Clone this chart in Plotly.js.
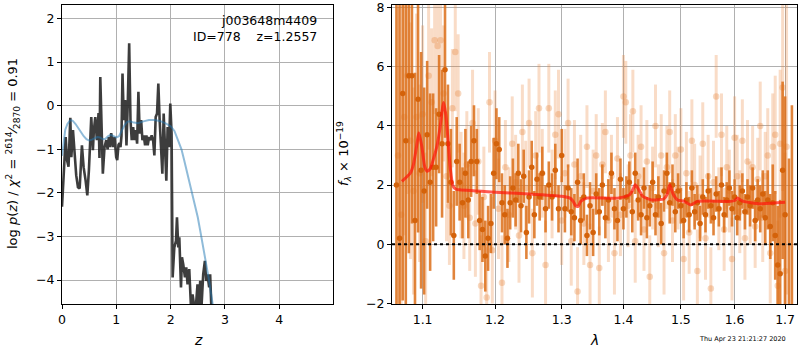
<!DOCTYPE html>
<html>
<head>
<meta charset="utf-8">
<script src="https://cdn.plot.ly/plotly-3.0.1.min.js"></script>
<style>html,body{margin:0;padding:0;background:#fff;}#plot{width:800px;height:350px;}</style>
</head>
<body>
<div id="plot"></div>
<script>
// ---- Left panel: log p(z) ----
const zPdf = [0.0,0.007,0.04,0.068,0.092,0.12,0.153,0.172,0.202,0.233,0.262,0.294,0.325,0.367,0.398,0.435,0.466,0.495,0.515,0.539,0.569,0.587,0.613,0.642,0.673,0.69,0.705,0.728,0.752,0.783,0.815,0.84,0.862,0.88,0.906,0.936,0.967,0.998,1.017,1.04,1.059,1.077,1.095,1.114,1.138,1.163,1.187,1.211,1.237,1.261,1.284,1.31,1.334,1.358,1.383,1.407,1.431,1.457,1.481,1.505,1.53,1.554,1.578,1.604,1.628,1.651,1.677,1.701,1.725,1.75,1.774,1.798,1.824,1.848,1.872,1.897,1.921,1.945,1.971,1.994,2.018,2.037,2.068,2.099,2.117,2.141,2.16,2.191,2.209,2.233,2.264,2.288,2.312,2.343,2.374,2.404,2.435,2.466,2.495,2.521,2.545,2.569,2.6,2.631,2.655,2.679,2.71,2.728,2.752];
const logPz = [-2.32,-2.18,-1.3,-0.72,-1.25,-1.4,-0.28,-1.18,-0.56,-1.25,-1.6,-1.87,-1.9,-0.91,-1.41,-1.72,-2.06,-1.49,-0.79,-0.26,-1.02,-0.56,-0.26,-0.79,-0.17,-1.2,0.66,-0.79,-1.56,-0.95,-0.79,-1.0,-0.72,-0.95,-0.63,-0.95,-0.72,-1.18,-1.25,-0.9,-0.86,-0.95,-0.7,0.74,-0.33,0.13,-0.91,0.05,1.43,-0.33,-0.79,-0.49,-0.79,-0.56,-0.87,0.32,-0.64,-0.33,-0.79,-0.68,-0.91,-0.68,-0.91,-0.72,-0.79,-0.68,-0.79,-1.14,-0.26,-0.18,0.51,-0.33,-1.02,-1.56,-0.18,-1.02,-1.72,-0.49,-0.95,0.05,-0.64,-3.94,-3.25,-3.1,-2.56,-3.25,-3.02,-4.17,-3.48,-3.64,-3.94,-3.71,-4.1,-3.75,-4.6,-4.33,-4.6,-4.6,-4.1,-4.6,-4.02,-4.6,-3.87,-3.56,-4.02,-3.87,-4.17,-3.87,-4.7];
const zPrior = [0.0,0.03,0.06,0.1,0.14,0.17,0.2,0.25,0.3,0.35,0.4,0.45,0.5,0.55,0.6,0.65,0.7,0.75,0.8,0.85,0.9,0.95,1.0,1.05,1.1,1.15,1.2,1.25,1.3,1.4,1.5,1.6,1.7,1.8,1.9,2.0,2.07,2.13,2.2,2.25,2.3,2.37,2.43,2.5,2.55,2.6,2.65,2.7,2.75,2.78];
const logPrior = [-1.15,-0.8,-0.55,-0.42,-0.35,-0.33,-0.35,-0.42,-0.52,-0.62,-0.7,-0.77,-0.8,-0.78,-0.74,-0.72,-0.73,-0.77,-0.76,-0.7,-0.67,-0.7,-0.73,-0.7,-0.58,-0.45,-0.37,-0.36,-0.38,-0.4,-0.36,-0.33,-0.33,-0.35,-0.4,-0.47,-0.58,-0.77,-1.0,-1.25,-1.5,-1.87,-2.2,-2.56,-2.9,-3.25,-3.55,-3.95,-4.35,-4.6];
const zTicks = [0,1,2,3,4];
const pzTicks = [-4,-3,-2,-1,0,1,2];

// ---- Right panel: spectrum ----
const lamA = [1.066,1.070,1.074,1.078,1.082,1.086,1.090,1.094,1.098,1.102,1.106,1.110,1.114,1.118,1.122,1.126,1.130,1.134,1.138,1.142,1.146,1.150,1.154,1.158,1.162,1.166,1.170,1.174,1.178,1.182,1.186,1.190,1.194,1.198,1.202,1.206,1.210,1.214,1.218,1.222,1.226,1.230,1.234,1.238,1.242,1.246,1.250,1.254,1.258,1.262,1.266,1.270,1.275,1.280,1.285,1.290,1.295,1.300,1.305,1.310,1.315,1.320,1.325,1.330,1.335,1.340,1.345,1.350,1.355,1.360,1.365,1.370,1.375,1.380,1.385,1.390,1.395,1.400,1.405,1.410,1.415,1.420,1.425,1.430,1.435,1.440,1.445,1.450,1.455,1.460,1.465,1.470,1.475,1.480,1.485,1.490,1.495,1.500,1.505,1.510,1.515,1.520,1.525,1.530,1.535,1.540,1.545,1.550,1.555,1.560,1.565,1.570,1.575,1.580,1.585,1.590,1.595,1.600,1.605,1.610,1.615,1.620,1.625,1.630,1.635,1.640,1.645,1.650,1.655,1.660,1.665,1.670,1.675,1.680,1.685,1.690,1.695,1.700,1.708,1.714];
const fluxA = [2.0,0.2,5.1,3.5,5.7,5.7,0.8,4.9,2.5,1.8,3.7,2.1,2.6,2.6,4.4,3.4,5.9,3.4,2.1,0.3,2.8,2.1,1.4,2.4,1.5,2.8,3.5,2.8,0.8,0.5,-0.4,0.2,0.7,2.4,3.4,3.2,1.4,1.0,0.2,1.4,1.9,1.5,2.4,1.3,2.3,0.4,1.6,2.6,1.0,2.2,1.6,2.4,1.2,2.0,1.6,2.5,1.2,3.0,1.2,1.9,1.1,0.9,2.1,0.8,1.6,0.3,1.3,0.4,1.7,1.1,2.0,0.9,1.5,2.4,1.2,0.8,2.2,1.2,1.6,2.1,1.1,2.4,1.5,1.0,1.9,0.9,1.3,2.1,1.0,1.6,0.7,1.8,2.4,1.4,2.0,1.1,1.8,1.3,0.8,1.5,1.0,1.9,1.1,1.4,0.7,1.6,1.0,1.8,1.3,0.9,1.7,1.2,2.0,1.0,1.5,1.9,1.2,1.6,0.9,1.4,1.8,1.1,1.6,1.3,1.9,0.8,1.5,1.2,1.7,0.9,1.5,0.6,1.4,0.3,-0.7,-1.0,2.5,1.0,-3.0,-3.0];
const errA = [9,8,7,6,6,5,5,4.5,4,3.5,2.5,3,2.5,2,2,2.5,2.3,2,1.8,1.5,1.5,1.3,1.2,1.5,1.3,1.2,1.2,1.1,1.0,1.1,1.2,1.1,1.0,1.2,1.2,1.1,1.0,1.0,1.0,0.9,1.0,0.9,1.0,0.9,0.9,0.9,0.9,0.9,0.8,0.9,0.8,0.9,0.8,0.8,0.8,0.9,0.8,0.9,0.8,0.8,0.8,0.8,0.8,0.8,0.8,0.7,0.8,0.8,0.7,0.8,0.7,0.7,0.7,0.7,0.7,0.7,0.7,0.7,0.7,0.7,0.7,0.7,0.7,0.7,0.7,0.7,0.7,0.7,0.7,0.7,0.7,0.7,0.7,0.7,0.7,0.7,0.6,0.6,0.6,0.6,0.6,0.6,0.6,0.6,0.6,0.6,0.6,0.6,0.6,0.6,0.6,0.6,0.6,0.6,0.6,0.6,0.6,0.6,0.6,0.6,0.6,0.6,0.6,0.7,0.7,0.7,0.7,0.8,0.8,0.9,1.0,1.1,1.3,1.5,2.0,2.5,3.0,4.0,5.9,7.7];

const lamB = [1.068,1.072,1.076,1.080,1.084,1.088,1.092,1.096,1.100,1.104,1.108,1.112,1.116,1.120,1.124,1.128,1.132,1.136,1.140,1.144,1.148,1.152,1.156,1.160,1.164,1.168,1.172,1.176,1.180,1.184,1.188,1.192,1.196,1.200,1.205,1.210,1.215,1.220,1.225,1.230,1.235,1.240,1.245,1.250,1.255,1.260,1.265,1.270,1.275,1.280,1.285,1.290,1.295,1.300,1.305,1.310,1.315,1.320,1.325,1.330,1.335,1.340,1.345,1.350,1.355,1.360,1.365,1.370,1.375,1.380,1.385,1.390,1.395,1.400,1.404,1.408,1.412,1.416,1.420,1.425,1.430,1.435,1.440,1.445,1.450,1.455,1.460,1.465,1.470,1.475,1.480,1.485,1.490,1.495,1.500,1.505,1.510,1.515,1.520,1.525,1.530,1.535,1.540,1.545,1.550,1.555,1.560,1.565,1.570,1.575,1.580,1.585,1.590,1.595,1.600,1.605,1.610,1.615,1.620,1.625,1.630,1.635,1.640,1.645,1.650,1.655,1.660,1.665,1.670,1.675,1.680,1.685,1.690,1.695,1.700,1.703];
const fluxB = [3.0,1.0,4.3,5.7,3.5,1.8,4.3,2.4,4.4,0.1,5.7,4.8,6.9,6.7,6.9,5.1,2.3,1.3,4.6,6.5,5.1,2.0,1.3,2.7,0.9,4.1,0.7,2.8,-1.4,1.6,-1.8,4.8,-0.2,3.5,1.2,-1.3,2.6,1.0,3.4,2.1,0.3,3.8,1.9,4.1,-0.3,3.0,4.6,2.4,-0.7,4.6,1.7,3.7,4.4,0.8,2.4,4.1,0.1,2.7,-1.6,2.3,0.7,3.3,-0.7,1.8,3.0,-0.8,2.7,3.8,0.8,2.3,-0.3,2.9,1.0,5.0,4.8,1.3,3.0,4.5,0.1,2.3,3.3,0.5,2.8,-1.1,1.9,4.0,1.3,3.0,-0.3,2.6,3.8,0.8,3.0,1.9,3.2,-0.5,2.4,0.4,3.5,2.0,-0.9,1.6,3.4,0.2,2.3,-1.5,2.1,5.0,1.2,3.7,0.5,2.6,1.8,-0.5,3.6,2.3,1.1,3.5,0.2,2.8,1.4,2.6,0.6,2.2,4.0,0.9,2.3,3.0,-0.3,3.3,3.7,-1.4,3.4,5.3,-0.9,3.3];
const errB = [5,5,4,4,4,3.5,3.5,3,3,3,2.5,2.5,2.5,2.5,2.5,2.3,2.2,2.0,2.0,2.0,2.0,1.8,1.8,1.8,1.8,1.8,1.8,1.8,1.7,1.7,1.7,1.7,1.8,1.7,1.7,1.6,1.6,1.6,1.6,1.6,1.6,1.6,1.6,1.5,1.5,1.5,1.5,1.5,1.5,1.5,1.5,1.5,1.5,1.5,1.5,1.5,1.5,1.5,1.5,1.4,1.4,1.4,1.4,1.4,1.4,1.4,1.4,1.4,1.4,1.4,1.4,1.4,1.4,1.4,1.4,1.4,1.4,1.4,1.4,1.4,1.4,1.4,1.4,1.4,1.4,1.4,1.4,1.4,1.4,1.4,1.4,1.4,1.4,1.4,1.4,1.4,1.4,1.4,1.4,1.4,1.4,1.4,1.4,1.4,1.4,1.4,1.4,1.4,1.4,1.4,1.4,1.4,1.4,1.4,1.4,1.4,1.4,1.4,1.4,1.4,1.4,1.4,1.4,1.4,1.5,1.5,1.5,1.6,1.7,1.8,2.0,2.2,2.5,3.5,4,5,5];

const lamModel = [1.073,1.080,1.084,1.088,1.092,1.095,1.099,1.103,1.106,1.110,1.114,1.119,1.123,1.126,1.128,1.131,1.134,1.137,1.141,1.145,1.150,1.200,1.250,1.300,1.313,1.318,1.322,1.326,1.330,1.340,1.390,1.410,1.416,1.420,1.426,1.433,1.448,1.470,1.476,1.480,1.486,1.494,1.506,1.518,1.530,1.592,1.600,1.605,1.611,1.617,1.650,1.700];
const fluxModel = [2.13,2.3,2.41,2.7,3.3,3.77,3.3,2.6,2.47,2.55,2.85,3.31,3.9,4.5,4.79,4.4,3.54,2.6,1.96,1.86,1.84,1.76,1.70,1.62,1.56,1.45,1.3,1.28,1.45,1.56,1.56,1.67,1.85,2.01,1.85,1.62,1.5,1.54,1.7,2.01,1.7,1.5,1.45,1.33,1.45,1.45,1.48,1.56,1.5,1.45,1.37,1.42];
const lamTicks = [1.1,1.2,1.3,1.4,1.5,1.6,1.7];
const lamTickText = ['1.1','1.2','1.3','1.4','1.5','1.6','1.7'];
const fTicks = [-2,0,2,4,6,8];

const FONT = 'DejaVu Sans, sans-serif';
const traces = [
  {x: zPdf, y: logPz, xaxis:'x', yaxis:'y', mode:'lines', line:{color:'rgba(40,40,40,0.9)', width:2.6}, hoverinfo:'skip'},
  {x: zPrior, y: logPrior, xaxis:'x', yaxis:'y', mode:'lines', line:{color:'rgba(31,119,180,0.5)', width:2}, hoverinfo:'skip'},
  {x: lamB, y: fluxB, xaxis:'x2', yaxis:'y2', mode:'markers',
   marker:{color:'rgba(228,125,45,0.3)', size:6.5, line:{width:0}},
   error_y:{type:'data', array: errB, visible:true, color:'rgba(232,130,55,0.28)', thickness:3, width:0}},
  {x: lamA, y: fluxA, xaxis:'x2', yaxis:'y2', mode:'markers',
   marker:{color:'#d4620a', size:5.5, line:{width:0}},
   error_y:{type:'data', array: errA, visible:true, color:'rgba(220,110,25,0.85)', thickness:2.6, width:0}},
  {x: lamModel, y: fluxModel, xaxis:'x2', yaxis:'y2', mode:'lines', line:{color:'rgba(255,20,10,0.7)', width:3, shape:'spline', smoothing:0.6}, hoverinfo:'skip'}
];

const axBase = {showline:true, mirror:true, linecolor:'black', linewidth:1, ticks:'outside', ticklen:4, tickcolor:'black',
  showgrid:true, gridcolor:'#b0b0b0', gridwidth:1, zeroline:false, tickfont:{family:FONT, size:12.5, color:'black'}};

const layout = {
  width:800, height:350, margin:{l:0, r:0, t:5, b:46}, paper_bgcolor:'white', plot_bgcolor:'white', showlegend:false,
  xaxis: Object.assign({}, axBase, {domain:[62/800, 333/800], range:[0, 4.99], tickvals: zTicks, anchor:'y'}),
  yaxis: Object.assign({}, axBase, {domain:[0,1], range:[-4.55, 2.31], tickvals: pzTicks, anchor:'x'}),
  xaxis2: Object.assign({}, axBase, {domain:[392/800, 797/800], type:'log', range:[Math.log10(1.0603), Math.log10(1.7245)], tickvals: lamTicks, ticktext: lamTickText, anchor:'y2'}),
  yaxis2: Object.assign({}, axBase, {domain:[0,1], range:[-2.02, 8.09], tickvals: fTicks, anchor:'x2'}),
  shapes: [{type:'line', xref:'x2 domain', x0:0, x1:1, yref:'y2', y0:0, y1:0, layer:'above', line:{color:'black', width:2, dash:'dot'}}],
  annotations: [
    {xref:'paper', yref:'paper', x:318.5/800, y:(304-21)/299, xanchor:'right', yanchor:'middle', showarrow:false, text:'j003648m4409', font:{family:FONT, size:12.5, color:'black'}},
    {xref:'paper', yref:'paper', x:318.5/800, y:(304-36.5)/299, xanchor:'right', yanchor:'middle', showarrow:false, text:'ID=778\u00a0\u00a0\u00a0\u00a0z=1.2557', font:{family:FONT, size:12.5, color:'black'}},
    {xref:'paper', yref:'paper', x:198/800, y:(304-340)/299, xanchor:'center', yanchor:'middle', showarrow:false, text:'<i>z</i>', font:{family:FONT, size:14, color:'black'}},
    {xref:'paper', yref:'paper', x:594/800, y:(304-340)/299, xanchor:'center', yanchor:'middle', showarrow:false, text:'<i>λ</i>', font:{family:FONT, size:14, color:'black'}},
    {xref:'paper', yref:'paper', x:13/800, y:(304-154)/299, xanchor:'center', yanchor:'middle', textangle:-90, showarrow:false,
     text:'log <i>p</i>(<i>z</i>) / <i>χ</i><sup>2</sup> = <sup>2614</sup>⁄<sub>2870</sub> = 0.91', font:{family:FONT, size:13, color:'black'}},
    {xref:'paper', yref:'paper', x:344/800, y:(304-154)/299, xanchor:'center', yanchor:'middle', textangle:-90, showarrow:false,
     text:'<i>f</i><sub><i>λ</i></sub> × 10<sup>−19</sup>', font:{family:FONT, size:13, color:'black'}},
    {xref:'paper', yref:'paper', x:742/800, y:(304-339)/299, xanchor:'center', yanchor:'middle', showarrow:false, text:'Thu Apr 23 21:21:27 2020', font:{family:FONT, size:6.5, color:'black'}}
  ]
};

Plotly.newPlot('plot', traces, layout, {staticPlot:true, displayModeBar:false});
</script>
</body>
</html>
